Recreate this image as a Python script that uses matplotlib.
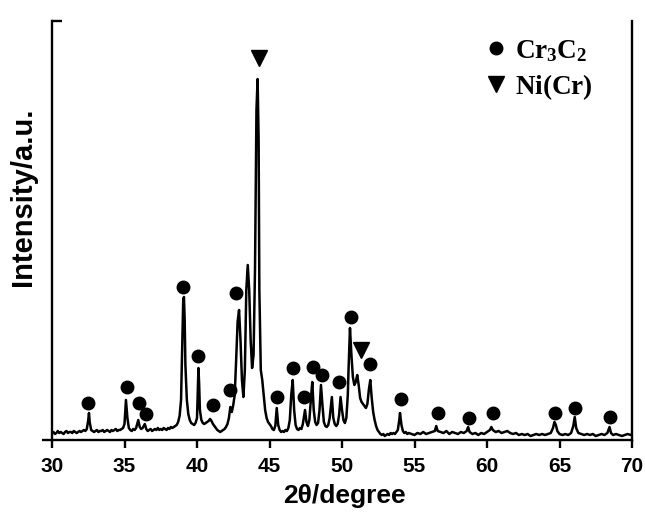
import matplotlib
matplotlib.use("Agg")
import matplotlib.pyplot as plt
from matplotlib.ticker import FixedLocator

plt.rcParams['mathtext.fontset'] = 'custom'
plt.rcParams['mathtext.rm'] = 'Liberation Serif'
plt.rcParams['mathtext.bf'] = 'Liberation Serif:bold'

# ---- XRD pattern (2theta in degrees, intensity in a.u.) ----
two_theta = [
    30.0, 30.1, 30.2, 30.3, 30.4, 30.5, 30.6, 30.7, 30.8, 30.9, 31.0, 31.1, 31.2, 31.3, 31.4, 31.5,
    31.6, 31.7, 31.8, 31.9, 32.0, 32.1, 32.2, 32.3,
    32.4, 32.5, 32.55, 32.6, 32.7,
    32.8, 32.9, 33.0, 33.1, 33.2, 33.3, 33.4, 33.5, 33.6, 33.7, 33.8, 33.9, 34.0, 34.1, 34.2, 34.3,
    34.4, 34.5, 34.6, 34.7, 34.8, 34.9,
    35.0, 35.1, 35.2, 35.3,
    35.4, 35.5, 35.6, 35.7, 35.8,
    35.95, 36.05, 36.15, 36.25, 36.4, 36.5, 36.6,
    36.7, 36.8, 36.9, 37.0, 37.1, 37.2, 37.3, 37.4, 37.5, 37.6, 37.7, 37.8, 37.9, 38.0, 38.1, 38.2,
    38.3, 38.4, 38.5,
    38.6, 38.7, 38.8, 38.9, 39.0, 39.05, 39.1, 39.15, 39.2, 39.3, 39.4, 39.5, 39.6, 39.7, 39.8, 39.9, 40.0,
    40.1, 40.15, 40.2, 40.3, 40.4, 40.5, 40.6, 40.7, 40.8, 40.9, 41.0, 41.1, 41.2, 41.3, 41.4, 41.5,
    41.6, 41.7, 41.8, 41.9, 42.0, 42.1, 42.2, 42.3, 42.4, 42.5, 42.6, 42.7, 42.8, 42.9, 43.0, 43.1,
    43.2, 43.3, 43.4, 43.5, 43.6, 43.7, 43.8, 43.9, 44.0, 44.1, 44.18, 44.25, 44.3, 44.4, 44.5, 44.6,
    44.7, 44.8, 44.9, 45.0, 45.1, 45.2, 45.3, 45.4, 45.5, 45.6, 45.7, 45.8, 45.9, 46.0, 46.1, 46.2,
    46.3, 46.4, 46.5, 46.6, 46.7, 46.8, 46.9, 47.0, 47.1, 47.2, 47.3, 47.45, 47.55, 47.65, 47.75, 47.85,
    47.95, 48.05, 48.15, 48.25, 48.35, 48.45, 48.55, 48.65, 48.75, 48.85, 48.95, 49.05, 49.15, 49.3,
    49.4, 49.5, 49.6, 49.7, 49.8, 49.9, 50.0, 50.1, 50.2, 50.3, 50.4, 50.45, 50.55, 50.65, 50.75, 50.85,
    50.95, 51.05, 51.15, 51.25, 51.35, 51.45, 51.55, 51.65, 51.75, 51.85, 51.95, 52.05, 52.15, 52.25,
    52.35, 52.45, 52.55, 52.65, 52.75, 52.85, 52.95, 53.05, 53.15, 53.25, 53.35, 53.45, 53.55, 53.65,
    53.75, 53.85, 53.95, 54.0, 54.1, 54.2, 54.3, 54.4, 54.5,
    54.6, 54.8, 55.0, 55.2, 55.4, 55.6, 55.8, 56.0, 56.2, 56.4, 56.5, 56.6, 56.8, 57.0, 57.2, 57.4,
    57.6, 57.8, 58.0, 58.2, 58.4, 58.6, 58.7, 58.8, 59.0, 59.2, 59.4, 59.6, 59.8, 60.0, 60.2, 60.3,
    60.4, 60.6, 60.8, 61.0, 61.2, 61.4, 61.6, 61.8, 62.0, 62.2, 62.4, 62.6, 62.8, 63.0, 63.2, 63.4,
    63.6, 63.8, 64.0, 64.2, 64.4, 64.55, 64.65, 64.75, 64.85, 65.0, 65.2, 65.4, 65.6, 65.8, 65.95,
    66.05, 66.15, 66.3, 66.5, 66.7, 66.9, 67.1, 67.3, 67.5, 67.7, 67.9, 68.1, 68.3, 68.45, 68.55,
    68.7, 68.9, 69.1, 69.3, 69.5, 69.7, 69.9, 70.0,
]
intensity = [
    7, 8, 6, 7, 9, 7, 8, 7, 6, 8, 9, 7, 8, 8, 7, 9,
    8, 7, 8, 9, 8, 9, 10, 9,
    11, 20, 27, 18, 10,
    9, 8, 9, 10, 8, 9, 9, 10, 8, 9, 10, 9, 8, 10, 9, 10,
    11, 9, 10, 10, 11, 12,
    16, 40, 22, 12,
    10, 9, 11, 10, 12,
    20, 13, 11, 12, 16, 11, 9,
    10, 11, 9, 10, 11, 10, 12, 10, 11, 10, 12, 11, 10, 12, 11, 13,
    12, 13, 14,
    15, 18, 24, 40, 110, 140, 143, 120, 75, 40, 26, 20, 17, 16, 15, 17, 22,
    72, 55, 30, 20, 17, 16, 17, 18, 19, 21, 19, 16, 14, 12, 10, 9,
    8, 9, 10, 11, 13, 16, 22, 33, 28, 35, 45, 80, 118, 130, 100, 60,
    43, 70, 150, 175, 150, 100, 72, 85, 170, 330, 361, 300, 150, 70, 60, 45,
    30, 22, 18, 16, 14, 11, 10, 14, 32, 15, 10, 8, 9, 8, 10, 9,
    12, 20, 45, 60, 30, 15, 11, 10, 12, 11, 16, 30, 18, 14, 20, 40,
    58, 30, 18, 15, 17, 30, 55, 35, 18, 14, 13, 15, 22, 43,
    22, 16, 14, 16, 25, 43, 30, 20, 17, 22, 45, 70, 112, 85, 63, 55,
    58, 65, 55, 42, 38, 36, 34, 32, 36, 50, 60, 42, 28, 20,
    14, 10, 8, 6, 5, 6, 4, 5, 6, 5, 7, 6, 7, 6,
    8, 10, 20, 27, 15, 9, 7, 8, 6,
    7, 6, 5, 7, 6, 8, 6, 7, 8, 9, 14, 9, 8, 7, 9, 6,
    8, 7, 6, 8, 7, 9, 13, 8, 6, 7, 5, 7, 6, 8, 10, 13,
    10, 8, 9, 7, 8, 9, 7, 6, 7, 5, 6, 5, 6, 4, 5, 6,
    5, 6, 5, 6, 7, 12, 18, 15, 9, 6, 5, 6, 5, 7, 14,
    23, 12, 7, 6, 5, 6, 5, 6, 4, 5, 6, 5, 7, 13, 7,
    5, 6, 5, 4, 5, 6, 5, 6,
]

# ---- phase markers ----
cr3c2_x = [32.5, 35.15, 36.0, 36.5, 39.0, 40.1, 41.1, 42.25, 42.7, 45.55, 46.6, 47.4, 48.0,
           48.65, 49.8, 50.6, 51.95, 54.05, 56.6, 58.75, 60.4, 64.7, 66.1, 68.5]
cr3c2_y = [37, 53, 37, 26, 153, 84, 35, 50, 147, 43, 72, 43, 73,
           65, 58, 123, 76, 41, 27, 22, 27, 27, 32, 23]
nicr_x = [44.25, 51.3]
nicr_y = [382, 90]

x_ticks = [30, 35, 40, 45, 50, 55, 60, 65, 70]

fig = plt.figure(figsize=(6.45, 5.13), dpi=100)
ax = fig.add_axes([52 / 645, 73 / 513, 580 / 645, 419 / 513])

ax.plot(two_theta, intensity, color='black', lw=1.8)
h1, = ax.plot(cr3c2_x, cr3c2_y, 'o', color='black', ms=9, ls='none', label=r'$\mathbf{Cr_3C_2}$')
h2, = ax.plot(nicr_x, nicr_y, 'v', color='black', ms=11, ls='none', label=r'$\mathbf{Ni(Cr)}$')

ax.set_xlim(30, 70)
ax.set_ylim(0, 419)

ax.spines['top'].set_visible(False)
for s in ['left', 'right', 'bottom']:
    ax.spines[s].set_linewidth(1.7)

ax.set_xticks(x_ticks)
ax.set_xticklabels([str(t) for t in x_ticks], fontfamily='Liberation Sans', fontweight='bold', fontsize=15)
ax.tick_params(axis='x', direction='out', length=6, width=1.7, pad=6)
ax.set_yticks([0])
ax.set_yticklabels([])
ax.tick_params(axis='y', which='major', direction='out', length=7, width=1.7)
ax.yaxis.set_minor_locator(FixedLocator([419]))
ax.tick_params(axis='y', which='minor', direction='in', length=7, width=1.7, right=False)

ax.set_xlabel('2θ/degree', fontfamily='Liberation Sans', fontweight='bold', fontsize=19)
ax.xaxis.set_label_coords(0.505, -0.105)
ax.set_ylabel('Intensity/a.u.', fontfamily='Liberation Sans', fontweight='bold', fontsize=21)
ax.yaxis.set_label_coords(-0.025, 0.58)

ax.legend(handles=[h1, h2], loc='upper left', bbox_to_anchor=(0.743, 0.96), frameon=False,
          prop={'family': 'Liberation Serif', 'weight': 'bold', 'size': 19.5},
          handlelength=0.95, handletextpad=0.25, labelspacing=0.3, borderpad=0, borderaxespad=0,
          numpoints=1)

fig.savefig('out.png', dpi=100)
